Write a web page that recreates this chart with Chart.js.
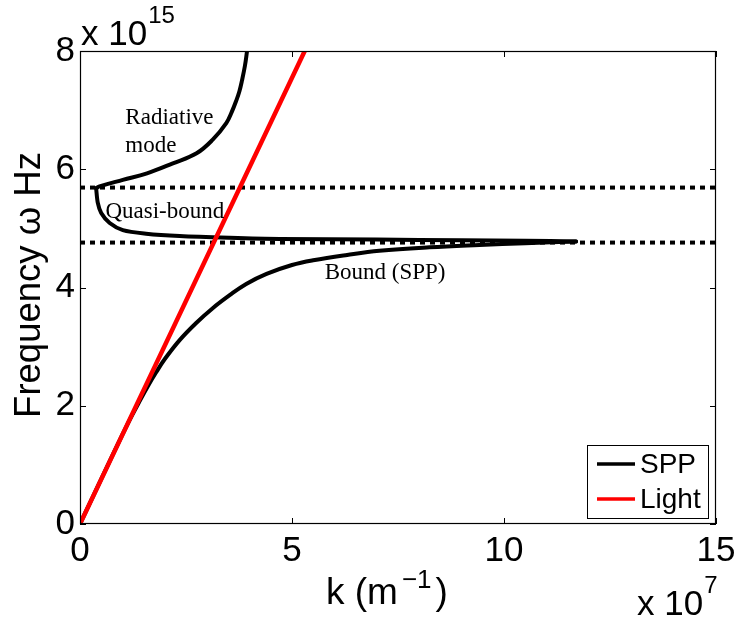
<!DOCTYPE html>
<html><head><meta charset="utf-8">
<script src="https://cdn.jsdelivr.net/npm/chart.js@4/dist/chart.umd.min.js"></script>
<style>html,body{margin:0;padding:0;background:#fff;overflow:hidden}</style>
</head><body>
<canvas id="c" width="737" height="619" style="display:block;width:737px;height:619px"></canvas>
<script>
// ---- data (k in 1e7 m^-1, omega in 1e15 Hz) ----
const xTicks = [0, 5, 10, 15];
const yTicks = [0, 2, 4, 6, 8];

const kBound = [0, 0.5, 1.0, 1.2, 1.4, 1.6, 1.8, 2.0, 2.35, 2.74, 3.13, 3.53, 3.92, 4.4, 5.0, 5.5, 6.3, 7.06, 8.24, 9.42, 10.5, 11.7];
const wBound = [0, 0.76, 1.51, 1.80, 2.07, 2.33, 2.57, 2.79, 3.11, 3.40, 3.65, 3.87, 4.06, 4.23, 4.38, 4.46, 4.55, 4.62, 4.68, 4.72, 4.75, 4.78];

const kQuasi = [0.38, 0.42, 0.50, 0.70, 1.01, 1.56, 2.35, 3.53, 4.71, 7.0, 9.0, 10.5, 11.7];
const wQuasi = [5.68, 5.43, 5.26, 5.09, 4.97, 4.91, 4.87, 4.84, 4.82, 4.81, 4.80, 4.79, 4.78];

const kRad = [0.38, 0.46, 1.01, 1.58, 2.19, 2.75, 3.13, 3.45, 3.58, 3.69, 3.76, 3.82, 3.89, 3.94];
const wRad = [5.68, 5.71, 5.82, 5.93, 6.10, 6.27, 6.50, 6.78, 6.97, 7.17, 7.32, 7.50, 7.75, 8.00];

const kLight = [0, 5.3];
const wLight = [0, 8.0];

const kLimits = [0, 15];
const wUpper = [5.69, 5.69];
const wLower = [4.76, 4.76];

const seriesNames = ['SPP', 'Light'];
const annotations = [
  {text: 'Radiative', k: 1.07, w: 6.87},
  {text: 'mode', k: 1.07, w: 6.40},
  {text: 'Quasi-bound', k: 0.60, w: 5.28},
  {text: 'Bound (SPP)', k: 5.77, w: 4.25}
];
const xLabel = 'k (m', xLabelSup = '\u22121', xLabelEnd = ')';
const yLabel = 'Frequency \u03c9 Hz';
const xExp = '7', yExp = '15';

function pts(xs, ys) { return xs.map((x, i) => ({x: x, y: ys[i]})); }

const SANS = '"Liberation Sans", Arial, Helvetica, sans-serif';
const SERIF = '"Liberation Serif", "Times New Roman", serif';

const black = '#000000', red = '#ff0000';

const decor = {
  id: 'decor',
  afterDatasetsDraw(chart) {
    const ctx = chart.ctx, a = chart.chartArea;
    const xs = chart.scales.x, ys = chart.scales.y;
    ctx.save();
    // box
    ctx.strokeStyle = '#000'; ctx.lineWidth = 1.2;
    ctx.strokeRect(a.left + 0.5, a.top + 0.5, a.right - a.left - 1, a.bottom - a.top - 1);
    // inward ticks
    ctx.lineWidth = 1;
    const tl = 6;
    ctx.beginPath();
    xTicks.forEach(v => {
      const px = Math.round(xs.getPixelForValue(v)) + 0.5;
      ctx.moveTo(px, a.bottom); ctx.lineTo(px, a.bottom - tl);
      ctx.moveTo(px, a.top); ctx.lineTo(px, a.top + tl);
    });
    yTicks.forEach(v => {
      const py = Math.round(ys.getPixelForValue(v)) + 0.5;
      ctx.moveTo(a.left, py); ctx.lineTo(a.left + tl, py);
      ctx.moveTo(a.right, py); ctx.lineTo(a.right - tl, py);
    });
    ctx.stroke();

    // annotations
    ctx.fillStyle = '#000';
    ctx.font = '23px ' + SERIF;
    ctx.textAlign = 'left'; ctx.textBaseline = 'middle';
    annotations.forEach(t => ctx.fillText(t.text, xs.getPixelForValue(t.k), ys.getPixelForValue(t.w)));

    // legend
    const lw = 121, lh = 73;
    const lx = a.right - 8 - lw, ly = a.bottom - 6 - lh;
    ctx.fillStyle = '#fff';
    ctx.fillRect(lx, ly, lw, lh);
    ctx.strokeStyle = '#000'; ctx.lineWidth = 1;
    ctx.strokeRect(lx + 0.5, ly + 0.5, lw, lh);
    const cols = [black, red];
    ctx.font = '28px ' + SANS;
    ctx.textBaseline = 'middle';
    seriesNames.forEach((n, i) => {
      const cy = ly + 19 + i * 35;
      ctx.strokeStyle = cols[i]; ctx.lineWidth = 3.5;
      ctx.beginPath(); ctx.moveTo(lx + 10, cy); ctx.lineTo(lx + 48, cy); ctx.stroke();
      ctx.fillStyle = '#000';
      ctx.fillText(n, lx + 53, cy + 1);
    });

    // y label
    ctx.save();
    ctx.translate(40, 285);
    ctx.rotate(-Math.PI / 2);
    ctx.font = '36.5px ' + SANS;
    ctx.textAlign = 'center'; ctx.textBaseline = 'alphabetic';
    ctx.fillStyle = '#000';
    ctx.fillText(yLabel, 0, 0);
    ctx.restore();

    // x label with superscript
    ctx.fillStyle = '#000';
    ctx.textAlign = 'left'; ctx.textBaseline = 'alphabetic';
    ctx.font = '37px ' + SANS;
    let base = 604;
    ctx.fillText(xLabel, 326, base);
    let x0 = 326 + ctx.measureText(xLabel).width;
    ctx.font = '26px ' + SANS;
    ctx.fillText(xLabelSup, x0 + 4, base - 16);
    x0 += 4 + ctx.measureText(xLabelSup).width;
    ctx.font = '37px ' + SANS;
    ctx.fillText(xLabelEnd, x0 + 4, base);

    // exponents
    ctx.font = '35px ' + SANS;
    ctx.fillText('x 10', 81, 45);
    let w1 = ctx.measureText('x 10').width;
    ctx.font = '24px ' + SANS;
    ctx.fillText(yExp, 81 + w1 + 1, 23);
    ctx.font = '35px ' + SANS;
    ctx.fillText('x 10', 637, 615);
    let w2 = ctx.measureText('x 10').width;
    ctx.font = '24px ' + SANS;
    ctx.fillText(xExp, 637 + w2 + 1, 593);
    ctx.restore();
  }
};

const lineBase = {showLine: true, pointRadius: 0, fill: false, borderCapStyle: 'round', borderJoinStyle: 'round'};

new Chart(document.getElementById('c'), {
  type: 'scatter',
  data: {
    datasets: [
      Object.assign({}, lineBase, {label: 'Light', data: pts(kLight, wLight), borderColor: red, borderWidth: 4.5, order: 0, tension: 0}),
      Object.assign({}, lineBase, {label: 'SPP', data: pts(kBound, wBound), borderColor: black, borderWidth: 4, order: 1, tension: 0.4}),
      Object.assign({}, lineBase, {label: 'SPP quasi', data: pts(kQuasi, wQuasi), borderColor: black, borderWidth: 4, order: 1, tension: 0.3}),
      Object.assign({}, lineBase, {label: 'SPP rad', data: pts(kRad, wRad), borderColor: black, borderWidth: 4, order: 1, tension: 0.4}),
      Object.assign({}, lineBase, {label: 'upper', data: pts(kLimits, wUpper), borderColor: black, borderWidth: 4, borderDash: [5, 5], borderCapStyle: 'butt', order: 2}),
      Object.assign({}, lineBase, {label: 'lower', data: pts(kLimits, wLower), borderColor: black, borderWidth: 4, borderDash: [5, 5], borderCapStyle: 'butt', order: 2})
    ]
  },
  options: {
    responsive: false,
    animation: false,
    devicePixelRatio: 1,
    layout: {padding: {top: 51, right: 21, left: 0, bottom: 0}},
    plugins: {legend: {display: false}, tooltip: {enabled: false}},
    scales: {
      x: {
        type: 'linear', min: 0, max: 15,
        afterBuildTicks: s => { s.ticks = xTicks.map(v => ({value: v})); },
        afterFit: s => { s.height = 95; s.paddingLeft = 0; s.paddingRight = 0; },
        grid: {display: false, drawTicks: false},
        border: {display: false},
        ticks: {color: '#000', font: {family: SANS, size: 35}, padding: 6, maxRotation: 0, autoSkip: false}
      },
      y: {
        type: 'linear', min: 0, max: 8,
        afterBuildTicks: s => { s.ticks = yTicks.map(v => ({value: v})); },
        afterFit: s => { s.width = 80; s.paddingTop = 0; s.paddingBottom = 0; },
        grid: {display: false, drawTicks: false},
        border: {display: false},
        ticks: {color: '#000', font: {family: SANS, size: 35}, padding: 5, autoSkip: false}
      }
    }
  },
  plugins: [decor]
});
</script>
</body></html>
